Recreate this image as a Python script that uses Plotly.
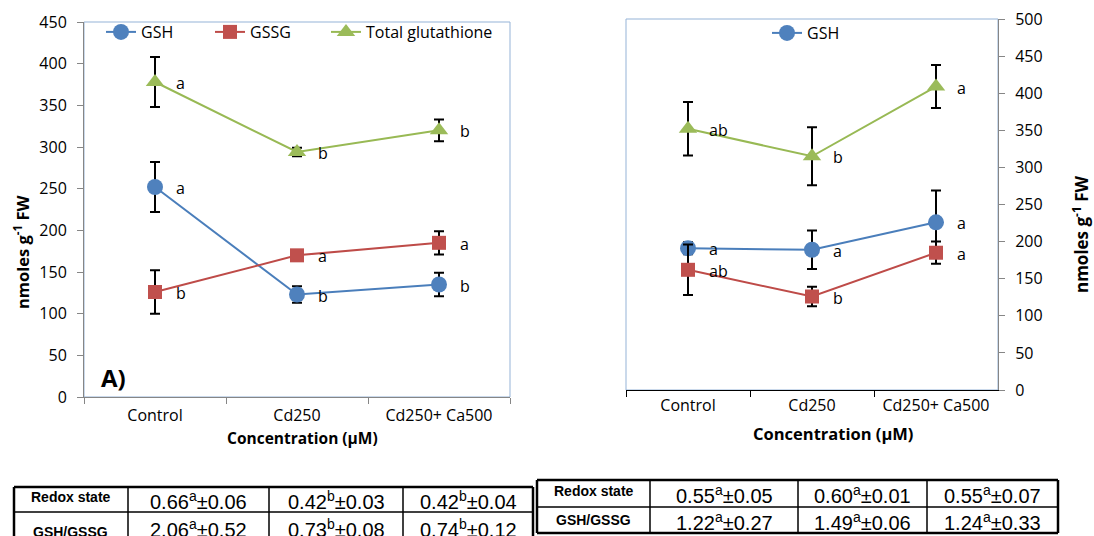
import plotly.graph_objects as go

W, H = 1094, 536
FONT = "Open Sans"

categories = ["Control", "Cd250", "Cd250+ Ca500"]

# Panel A (left)
a_gsh = [252, 123, 135]
a_gsh_err = [30, 10, 14]
a_gssg = [126, 170, 185]
a_gssg_err = [26, 3, 14]
a_total = [378, 294, 320]
a_total_err = [30, 5, 13]
a_gsh_letters = ["a", "b", "b"]
a_gssg_letters = ["b", "a", "a"]
a_total_letters = ["a", "b", "b"]

# Panel B (right)
b_gsh = [191, 189, 226]
b_gsh_err = [8, 26, 43]
b_gssg = [162, 126, 185]
b_gssg_err = [34, 13, 15]
b_total = [352, 315, 409]
b_total_err = [36, 39, 29]
b_gsh_letters = ["a", "a", "a"]
b_gssg_letters = ["ab", "b", "a"]
b_total_letters = ["ab", "b", "a"]

# Tables
table_rows = ["Redox state", "GSH/GSSG"]
a_redox_mean = ["0.66", "0.42", "0.42"]
a_redox_letter = ["a", "b", "b"]
a_redox_sd = ["0.06", "0.03", "0.04"]
a_ratio_mean = ["2.06", "0.73", "0.74"]
a_ratio_letter = ["a", "b", "b"]
a_ratio_sd = ["0.52", "0.08", "0.12"]
b_redox_mean = ["0.55", "0.60", "0.55"]
b_redox_letter = ["a", "a", "a"]
b_redox_sd = ["0.05", "0.01", "0.07"]
b_ratio_mean = ["1.22", "1.49", "1.24"]
b_ratio_letter = ["a", "a", "a"]
b_ratio_sd = ["0.27", "0.06", "0.33"]

BLUE_L, BLUE_M = "#4A7EBB", "#4F81BD"
RED_L, RED_M = "#BE4B48", "#C0504D"
GRN_L, GRN_M = "#98B954", "#9BBB59"


def px(x):
    return x / W


def py(y):
    return 1 - y / H


fig = go.Figure()


def add_series(xa, ya, vals, errs, name, lc, mc, symbol, size, showlegend, legend):
    fig.add_trace(go.Scatter(
        x=categories, y=vals, name=name, mode="lines+markers",
        xaxis=xa, yaxis=ya,
        line=dict(color=lc, width=2),
        marker=dict(color=mc, symbol=symbol, size=size, line=dict(width=0)),
        error_y=dict(type="data", array=errs, visible=True, color="black", thickness=2, width=5),
        showlegend=showlegend, legend=legend,
    ))


add_series("x", "y", a_gsh, a_gsh_err, "GSH", BLUE_L, BLUE_M, "circle", 16, True, "legend")
add_series("x", "y", a_gssg, a_gssg_err, "GSSG", RED_L, RED_M, "square", 14, True, "legend2")
add_series("x", "y", a_total, a_total_err, "Total glutathione", GRN_L, GRN_M, "triangle-up", 16, True, "legend3")

add_series("x2", "y2", b_gsh, b_gsh_err, "GSH", BLUE_L, BLUE_M, "circle", 16, True, "legend4")
add_series("x2", "y2", b_gssg, b_gssg_err, "GSSG", RED_L, RED_M, "square", 14, False, "legend4")
add_series("x2", "y2", b_total, b_total_err, "Total glutathione", GRN_L, GRN_M, "triangle-up", 16, False, "legend4")

annotations = []


def add_letters(xr, yr, vals, letters):
    for c, v, t in zip(categories, vals, letters):
        annotations.append(dict(x=c, y=v, xref=xr, yref=yr, text=t, showarrow=False,
                                xanchor="left", yanchor="middle", xshift=19, yshift=-1,
                                font=dict(family=FONT, size=16, color="black")))


add_letters("x", "y", a_gsh, a_gsh_letters)
add_letters("x", "y", a_gssg, a_gssg_letters)
add_letters("x", "y", a_total, a_total_letters)
add_letters("x2", "y2", b_gsh, b_gsh_letters)
add_letters("x2", "y2", b_gssg, b_gssg_letters)
add_letters("x2", "y2", b_total, b_total_letters)


def note(x, y, text, size, angle=0, family=FONT):
    annotations.append(dict(x=px(x), y=py(y), xref="paper", yref="paper", text=text,
                            xanchor="center", yanchor="middle", textangle=angle, showarrow=False,
                            font=dict(family=family, size=size, color="black")))


ytitle = "<b>nmoles g<sup>-1</sup> FW</b>"
note(22, 252, ytitle, 16.5, -90)
note(1080, 235, ytitle, 17, -90)
note(302, 438, "<b>Concentration (µM)</b>", 15.5)
note(833, 433, "<b>Concentration (µM)</b>", 16.5)
note(113, 377, "<b>A)</b>", 24)

shapes = [
    dict(type="rect", xref="paper", yref="paper", x0=px(84), x1=px(510), y0=py(397), y1=py(22),
         line=dict(color="#95B3D7", width=1), layer="below"),
    dict(type="rect", xref="paper", yref="paper", x0=px(626), x1=px(998), y0=py(390), y1=py(19),
         line=dict(color="#95B3D7", width=1), layer="below"),
]


def add_table(xe, ye, means, letters, sds, hdr_dy, val_dy):
    for i, x in enumerate(xe):
        w = 2.5 if i in (0, len(xe) - 1) else 1.5
        shapes.append(dict(type="line", xref="paper", yref="paper", x0=px(x), x1=px(x),
                           y0=py(ye[0]), y1=py(ye[-1]), line=dict(color="black", width=w)))
    for j, y in enumerate(ye):
        w = 2.5 if j in (0, len(ye) - 1) else 1.5
        shapes.append(dict(type="line", xref="paper", yref="paper", x0=px(xe[0]), x1=px(xe[-1]),
                           y0=py(y), y1=py(y), line=dict(color="black", width=w)))
    for r in range(2):
        yc = (ye[r] + ye[r + 1]) / 2
        note((xe[0] + xe[1]) / 2, yc + hdr_dy[r], "<b>" + table_rows[r] + "</b>", 14, 0, "Liberation Sans")
        for c in range(3):
            note((xe[c + 1] + xe[c + 2]) / 2, yc + val_dy[r],
                 f"{means[r][c]}<sup>{letters[r][c]}</sup>±{sds[r][c]}", 20, 0, "Liberation Sans")


add_table([14, 128, 269, 403, 533], [487, 512, 540],
          [a_redox_mean, a_ratio_mean], [a_redox_letter, a_ratio_letter], [a_redox_sd, a_ratio_sd],
          [-2, 6], [1, 2])
add_table([537, 650, 798, 927, 1058], [480, 507, 533],
          [b_redox_mean, b_ratio_mean], [b_redox_letter, b_ratio_letter], [b_redox_sd, b_ratio_sd],
          [-3, 0], [1, 1])

axfont = dict(family=FONT, size=16, color="black")
xcommon = dict(type="category", range=[-0.5, 2.5], tickson="boundaries", ticks="outside", ticklen=6,
               showline=True, showgrid=False, zeroline=False, tickfont=axfont, fixedrange=True,
               automargin=False)
ycommon = dict(ticks="outside", ticklen=6, dtick=50, showline=True, showgrid=False, zeroline=False,
               tickfont=axfont, fixedrange=True, automargin=False, ticklabelstandoff=7)


def leg(x, y):
    return dict(orientation="h", x=px(x), y=py(y), xanchor="left", yanchor="middle",
                bgcolor="rgba(0,0,0,0)", font=dict(family=FONT, size=16), borderwidth=0)


fig.update_layout(
    width=W, height=H,
    margin=dict(l=0, r=0, t=0, b=0, autoexpand=False),
    paper_bgcolor="white", plot_bgcolor="white",
    font=dict(family=FONT, size=15, color="black"),
    xaxis=dict(domain=[px(84), px(510)], anchor="y", linecolor="#868686", tickcolor="#868686",
               ticklabelstandoff=4, **xcommon),
    yaxis=dict(domain=[py(397), py(22)], anchor="x", range=[0, 450], linecolor="#868686",
               tickcolor="#868686", **ycommon),
    xaxis2=dict(domain=[px(626), px(998)], anchor="y2", linecolor="black", tickcolor="black",
                ticklabelstandoff=1, **xcommon),
    yaxis2=dict(domain=[py(390), py(19)], anchor="x2", range=[0, 500], side="right", linecolor="#868686",
                tickcolor="#868686", **ycommon),
    legend=leg(101, 32),
    legend2=leg(210, 32),
    legend3=leg(326, 32),
    legend4=leg(767, 33),
    shapes=shapes,
    annotations=annotations,
)

fig.write_html("out.html", config={"displayModeBar": False},
               post_script="document.body.style.margin='0';document.body.style.overflow='hidden';")
